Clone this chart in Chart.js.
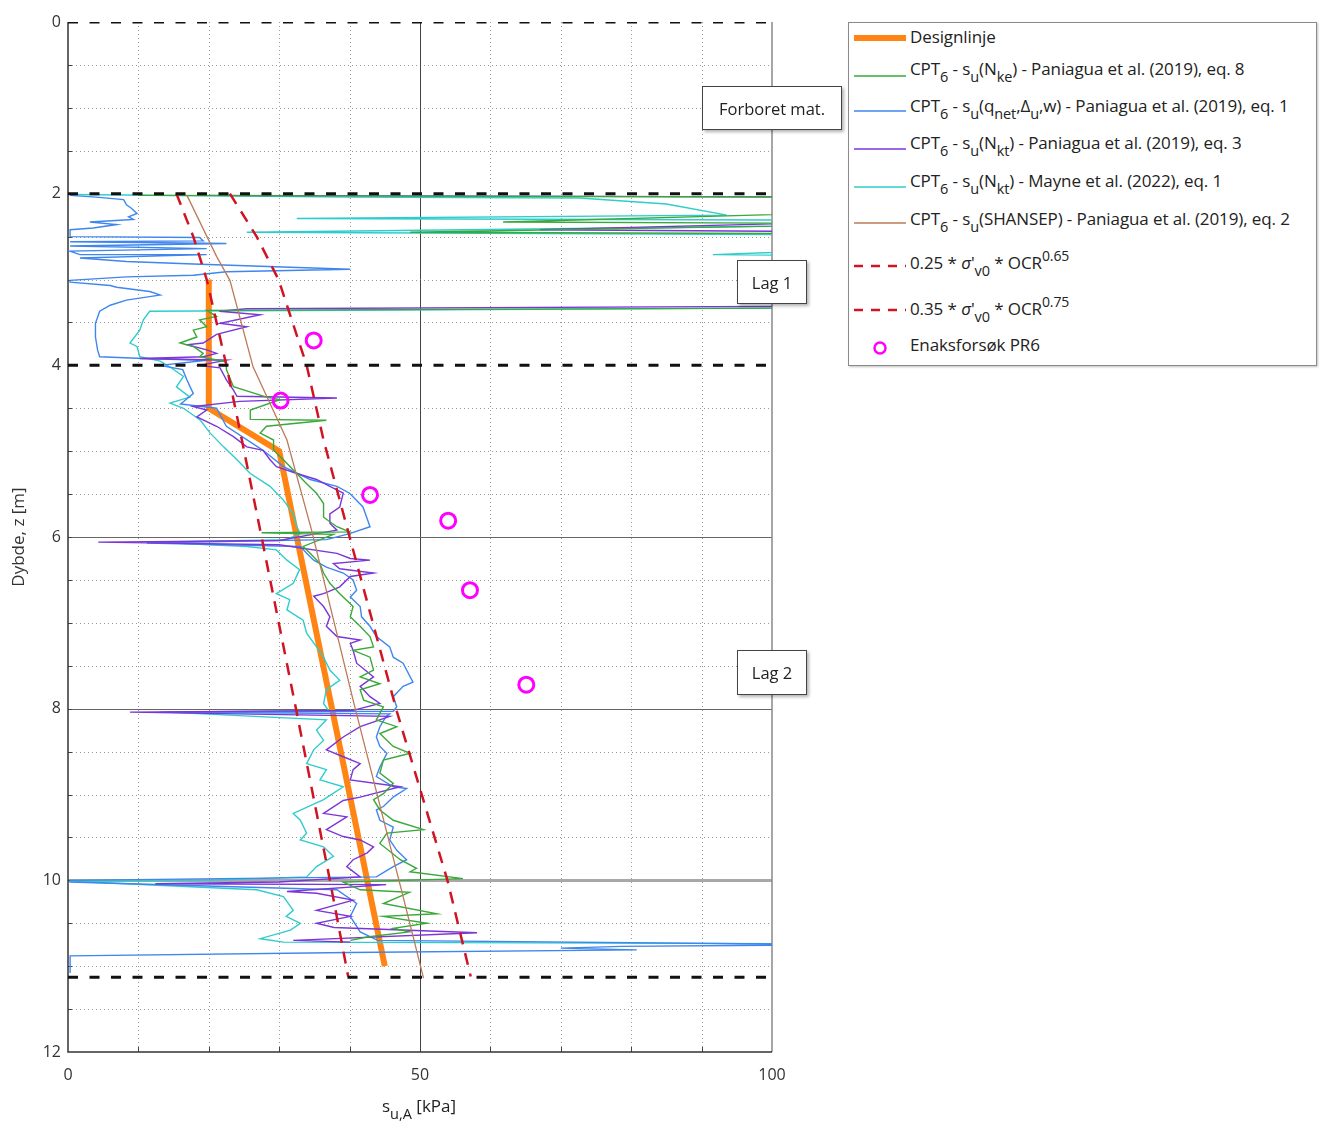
<!DOCTYPE html>
<html>
<head>
<meta charset="utf-8">
<script src="https://cdn.jsdelivr.net/npm/chart.js@4.4.1/dist/chart.umd.min.js"></script>
<style>
    body { margin: 0; background: #fff; font-family: "Open Sans", Lato, sans-serif; color: #222; }
    #wrap { position: relative; width: 1321px; height: 1129px; }
    #chart { position: absolute; left: 0; top: 0; }
    #legend {
        position: absolute; left: 848px; top: 22px; width: 467px; height: 342px;
        border: 1px solid #8a8a8a; box-shadow: 1px 1px 2px rgba(0, 0, 0, 0.25); background: #fff;
    }
    #legend .txt { position: absolute; left: 61px; font-size: 17px; line-height: 22px; white-space: nowrap; letter-spacing: -0.1px; }
    #legend svg { position: absolute; left: 4px; }
    sub { font-size: 14.5px; vertical-align: -7px; line-height: 0; }
    sup { font-size: 14px; vertical-align: 8px; line-height: 0; }
    .note {
        position: absolute; background: #fff; border: 1.5px solid #444;
        box-shadow: 2px 2px 3px rgba(0, 0, 0, 0.3); font-size: 16.5px;
        display: flex; align-items: center; justify-content: center; box-sizing: border-box;
    }
    #xtitle { position: absolute; left: 382px; top: 1094px; font-size: 17px; white-space: nowrap; }
</style>
</head>
<body>
<div id="wrap">
    <canvas id="chart" width="800" height="1129"></canvas>
    <div id="legend"></div>
    <div class="note" style="left:702px; top:86px; width:140px; height:44px;">Forboret mat.</div>
    <div class="note" style="left:737px; top:260px; width:70px; height:44px;">Lag 1</div>
    <div class="note" style="left:737px; top:650px; width:70px; height:45px;">Lag 2</div>
    <div id="xtitle">s<sub>u,A</sub> [kPa]</div>
</div>
<script>
// lagdelingsgrenser (stiplet svart)
const layerDepths = [0, 2, 4, 11.13];

// [su kPa, dybde m]
const designLine = [[20, 3.0], [20, 4.5], [30, 5.0], [45, 11.0]];

const lowerBound = [[15.4, 2.0], [17.8, 2.5], [19.7, 3.0], [22.5, 4.0], [24.7, 4.87], [27.3, 5.92],
    [32.5, 8.05], [37.2, 10.0], [39.8, 11.12]];

const upperBound = [[23.0, 2.0], [26.8, 2.5], [29.9, 3.0], [33.9, 4.0], [36.3, 4.87], [40.1, 6.03],
    [46.7, 8.03], [50.5, 9.07], [53.9, 10.0], [57.2, 11.12]];

const shansep = [[16.9, 2.02], [21.1, 2.73], [23.0, 3.01], [26.3, 4.02], [31.1, 4.87], [34.6, 5.92],
    [40.5, 7.9], [47.6, 10.19], [50.5, 11.14]];

const enaks = [[34.9, 3.71], [30.2, 4.41], [42.9, 5.51], [54.0, 5.81], [57.1, 6.62], [65.1, 7.72]];

const cptNke = [[10, 2.02], [110, 2.04], [120, 2.2], [61.8, 2.33], [120, 2.35], [48.6, 2.45], [120, 2.47],
    [130, 3.0], [110, 3.33], [19.7, 3.36], [21.1, 3.43], [18.7, 3.47], [19.7, 3.55], [17.8, 3.59],
    [18.3, 3.67], [15.9, 3.74], [17.8, 3.78], [19.2, 3.86], [18.7, 3.9], [22.5, 3.96], [22.5, 4.05],
    [23.5, 4.25], [28.2, 4.37], [30.1, 4.4], [25.9, 4.52], [25.9, 4.63], [36.7, 4.64], [28.2, 4.71],
    [27.3, 4.79], [29.2, 4.87], [29.2, 4.99], [30.6, 5.1], [32.0, 5.22], [33.9, 5.38], [35.3, 5.49],
    [36.3, 5.61], [36.3, 5.77], [38.2, 5.88], [40.0, 5.94], [27.5, 5.95], [37.7, 5.97], [33.4, 6.11],
    [34.4, 6.19], [35.8, 6.31], [36.3, 6.42], [37.2, 6.54], [38.6, 6.66], [40.5, 6.81], [40.1, 6.93],
    [41.5, 7.04], [42.9, 7.16], [43.4, 7.28], [40.5, 7.32], [42.9, 7.4], [43.4, 7.55], [41.5, 7.63],
    [44.3, 7.71], [41.5, 7.78], [42.0, 7.9], [44.8, 7.98], [43.8, 8.13], [46.7, 8.21], [44.3, 8.29],
    [46.2, 8.44], [48.6, 8.52], [44.8, 8.6], [44.3, 8.75], [46.2, 8.87], [44.8, 8.99], [43.4, 9.06],
    [44.3, 9.18], [46.2, 9.3], [50.5, 9.41], [45.3, 9.45], [44.3, 9.57], [47.2, 9.76], [49.5, 9.86],
    [48.6, 9.9], [56.1, 9.98], [39.1, 10.02], [41.5, 10.11], [48.5, 10.14], [44.8, 10.27], [52.4, 10.39],
    [44.8, 10.42], [51.0, 10.5], [46.2, 10.56], [48.5, 10.6], [42.5, 10.66], [40.1, 10.7]];

const cptQnet = [[0.3, 2.02], [4.0, 2.04], [7.9, 2.07], [8.3, 2.13], [9.0, 2.17], [9.8, 2.23], [8.6, 2.27],
    [9.3, 2.3], [7.4, 2.31], [3.1, 2.33], [6.9, 2.36], [3.6, 2.4], [0.3, 2.42], [0.3, 2.5], [18.7, 2.51],
    [19.2, 2.55], [0.3, 2.56], [22.5, 2.58], [0.3, 2.61], [19.7, 2.64], [0.3, 2.67], [1.7, 2.71],
    [19.7, 2.71], [1.7, 2.75], [8.3, 2.79], [17.8, 2.82], [40.1, 2.88], [22.5, 2.91], [17.8, 2.95],
    [8.3, 2.97], [0.3, 3.01], [0.3, 3.03], [6.0, 3.07], [6.9, 3.09], [11.6, 3.14], [13.1, 3.18],
    [11.6, 3.2], [8.3, 3.24], [6.0, 3.3], [4.5, 3.37], [3.9, 3.51], [3.9, 3.67], [4.2, 3.82], [4.5, 3.9],
    [10.7, 3.92], [19.7, 3.94], [13.1, 4.0], [16.3, 4.05], [16.9, 4.17], [17.8, 4.33], [16.0, 4.45],
    [21.1, 4.5], [22.5, 4.71], [27.7, 4.99], [30.6, 5.18], [34.4, 5.33], [38.2, 5.41], [40.0, 5.49],
    [41.9, 5.65], [42.9, 5.88], [40.0, 5.96], [36.7, 6.03], [11.2, 6.07], [33.0, 6.11], [33.9, 6.19],
    [34.9, 6.27], [36.7, 6.35], [39.1, 6.42], [40.5, 6.5], [41.0, 6.62], [40.1, 6.7], [41.5, 6.81],
    [41.7, 6.93], [42.9, 7.04], [43.8, 7.16], [45.7, 7.28], [46.2, 7.4], [47.6, 7.47], [49.0, 7.69],
    [47.6, 7.74], [46.2, 7.86], [46.7, 7.98], [46.2, 8.03], [13.1, 8.04], [45.7, 8.06], [45.2, 8.09],
    [44.3, 8.21], [43.8, 8.33], [44.3, 8.44], [45.3, 8.52], [44.3, 8.68], [43.8, 8.79], [46.2, 8.91],
    [48.1, 8.93], [46.2, 9.03], [44.8, 9.14], [43.8, 9.18], [44.3, 9.3], [46.2, 9.38], [45.7, 9.53],
    [46.7, 9.65], [48.1, 9.76], [46.2, 9.84], [43.8, 9.96], [0.3, 10.0], [0.3, 10.02], [38.2, 10.11],
    [41.0, 10.27], [40.1, 10.42], [41.5, 10.6], [44.0, 10.7], [110, 10.75], [78.6, 10.77], [70.0, 10.79],
    [80.8, 10.81], [40.0, 10.84], [0.3, 10.88], [0.3, 11.08]];

const cptNkt = [[20, 2.02], [110, 2.04], [120, 2.2], [105, 2.28], [120, 2.31], [67, 2.42], [120, 2.45],
    [130, 3.0], [110, 3.31], [25.4, 3.34], [21.5, 3.37], [27.3, 3.41], [21.6, 3.51], [25.4, 3.55],
    [21.1, 3.64], [19.2, 3.74], [16.9, 3.76], [19.7, 3.82], [21.1, 3.86], [19.2, 3.9], [10.2, 3.92],
    [22.5, 3.94], [18.7, 4.0], [21.6, 4.03], [22.5, 4.17], [23.5, 4.29], [24.0, 4.36], [38.2, 4.38],
    [24.4, 4.42], [17.8, 4.48], [19.7, 4.52], [18.3, 4.6], [21.1, 4.71], [23.5, 4.83], [25.4, 4.95],
    [27.7, 4.99], [28.7, 5.1], [29.6, 5.18], [32.5, 5.26], [35.3, 5.33], [37.2, 5.41], [39.1, 5.49],
    [38.6, 5.65], [37.2, 5.73], [37.2, 5.84], [38.2, 5.92], [35.3, 5.96], [30.0, 6.04], [4.3, 6.06],
    [30.0, 6.09], [38.2, 6.19], [40.1, 6.25], [42.9, 6.27], [37.7, 6.31], [38.6, 6.37], [43.4, 6.42],
    [40.1, 6.46], [38.6, 6.58], [36.3, 6.66], [34.9, 6.69], [36.3, 6.81], [37.2, 6.93], [36.7, 7.04],
    [38.2, 7.16], [41.5, 7.2], [40.1, 7.24], [40.5, 7.32], [41.0, 7.47], [43.4, 7.63], [41.5, 7.74],
    [42.9, 7.86], [44.3, 7.94], [40.5, 8.02], [8.8, 8.04], [45.7, 8.09], [41.5, 8.21], [39.1, 8.33],
    [36.7, 8.48], [39.1, 8.56], [41.5, 8.64], [40.5, 8.71], [40.1, 8.83], [47.2, 8.91], [41.5, 9.03],
    [39.1, 9.07], [36.3, 9.22], [39.6, 9.26], [36.7, 9.41], [39.1, 9.49], [41.5, 9.53], [43.4, 9.61],
    [42.5, 9.68], [40.5, 9.76], [39.6, 9.84], [41.5, 9.96], [30.0, 10.02], [12.4, 10.04], [45.2, 10.05],
    [31.1, 10.13], [35.3, 10.15], [40.5, 10.23], [35.3, 10.35], [40.1, 10.42], [35.3, 10.5], [37.8, 10.55],
    [58.1, 10.61], [32.0, 10.7], [40.1, 10.72]];

const cptMayne = [[0.3, 2.01], [40, 2.04], [72.7, 2.05], [85, 2.12], [93.6, 2.25], [32.5, 2.29], [110, 2.31],
    [120, 2.36], [25.4, 2.45], [110, 2.48], [130, 2.6], [91.6, 2.71], [120, 2.73], [130, 3.0], [110, 3.33],
    [11.6, 3.37], [10.7, 3.47], [10.2, 3.59], [8.8, 3.74], [9.8, 3.78], [10.2, 3.9], [13.1, 3.95],
    [14.5, 4.02], [16.4, 4.13], [15.4, 4.25], [17.3, 4.37], [14.5, 4.44], [16.4, 4.5], [18.8, 4.64],
    [20.2, 4.79], [22.1, 4.95], [24.0, 5.1], [25.9, 5.26], [28.7, 5.41], [30.6, 5.57], [32.0, 5.73],
    [32.5, 5.88], [33.0, 5.96], [31.0, 6.03], [12.0, 6.06], [25.4, 6.11], [29.6, 6.15], [31.1, 6.27],
    [32.9, 6.38], [32.0, 6.54], [29.6, 6.66], [31.5, 6.73], [31.1, 6.85], [33.4, 6.97], [33.9, 7.12],
    [35.3, 7.28], [36.3, 7.4], [37.2, 7.55], [38.6, 7.67], [36.7, 7.78], [36.3, 7.94], [37.0, 8.02],
    [14.0, 8.04], [36.7, 8.13], [35.3, 8.25], [36.3, 8.37], [34.9, 8.48], [33.9, 8.64], [36.7, 8.71],
    [35.8, 8.83], [39.1, 8.91], [36.3, 9.06], [32.0, 9.22], [33.0, 9.3], [33.9, 9.45], [33.0, 9.53],
    [36.3, 9.61], [37.7, 9.72], [35.3, 9.84], [33.9, 9.96], [20.0, 10.0], [0.3, 10.01], [26.8, 10.11],
    [30.6, 10.19], [32.0, 10.35], [31.0, 10.42], [33.0, 10.5], [31.6, 10.58], [27.3, 10.68], [30.6, 10.72],
    [110, 10.74]];

const colors = {
    design: "#ff8414",
    nke: "#3aa83a",
    qnet: "#3f86ee",
    nkt: "#7b35d8",
    mayne: "#30cccc",
    shansep: "#bb7b58",
    bound: "#d01424",
    enaks: "#ff00ff",
};

const pts = (arr) => arr.map(([x, y]) => ({ x: x, y: y }));

const lineSet = (data, color, width, dash) => ({
    data: pts(data),
    showLine: true,
    borderColor: color,
    backgroundColor: color,
    borderWidth: width,
    borderDash: dash || [],
    pointRadius: 0,
    pointHoverRadius: 0,
    fill: false,
    tension: 0,
});

// rutenett, ramme og små tick-merker
const gridPlugin = {
    id: "gridLines",
    beforeDatasetsDraw(chart) {
        const { ctx, chartArea: a, scales } = chart;
        const sx = scales.x;
        const sy = scales.y;
        const hline = (v) => {
            const p = Math.round(sy.getPixelForValue(v)) + 0.5;
            ctx.beginPath();
            ctx.moveTo(a.left, p);
            ctx.lineTo(a.right, p);
            ctx.stroke();
        };
        const vline = (v) => {
            const p = Math.round(sx.getPixelForValue(v)) + 0.5;
            ctx.beginPath();
            ctx.moveTo(p, a.top);
            ctx.lineTo(p, a.bottom);
            ctx.stroke();
        };
        ctx.save();
        // stiplet hjelpenett
        ctx.strokeStyle = "#9a9a9a";
        ctx.lineWidth = 1;
        ctx.setLineDash([1, 3]);
        for (let v = 10; v < 100; v += 10) if (v !== 50) vline(v);
        for (let v = 0.5; v < 12; v += 0.5) if (v % 2 !== 0) hline(v);
        ctx.setLineDash([]);
        // hovedlinjer
        ctx.strokeStyle = "#444";
        vline(50);
        ctx.strokeStyle = "#666";
        hline(6);
        hline(8);
        ctx.strokeStyle = "#a8a8a8";
        ctx.lineWidth = 3;
        hline(10);
        // tick-merker
        ctx.strokeStyle = "#444";
        ctx.lineWidth = 1;
        for (let v = 0.5; v < 12; v += 0.5) {
            const p = Math.round(sy.getPixelForValue(v)) + 0.5;
            ctx.beginPath();
            ctx.moveTo(a.left, p);
            ctx.lineTo(a.left + 4, p);
            ctx.stroke();
        }
        for (let v = 10; v < 100; v += 10) {
            const p = Math.round(sx.getPixelForValue(v)) + 0.5;
            ctx.beginPath();
            ctx.moveTo(p, a.bottom);
            ctx.lineTo(p, a.bottom - 5);
            ctx.stroke();
        }
        // ramme
        ctx.lineWidth = 1.5;
        ctx.strokeStyle = "#888";
        ctx.beginPath();
        ctx.moveTo(a.right, a.top);
        ctx.lineTo(a.right, a.bottom);
        ctx.stroke();
        ctx.strokeStyle = "#333";
        ctx.beginPath();
        ctx.moveTo(a.left, a.top);
        ctx.lineTo(a.left, a.bottom);
        ctx.lineTo(a.right, a.bottom);
        ctx.stroke();
        ctx.restore();
    },
};

const datasets = [];
layerDepths.forEach((z) => {
    datasets.push(lineSet([[0, z], [100, z]], "#111", 3, [10, 11.5]));
});
datasets.push({
    data: pts(enaks),
    showLine: false,
    pointStyle: "circle",
    pointRadius: 7.5,
    pointBorderWidth: 3,
    pointBorderColor: colors.enaks,
    pointBackgroundColor: "rgba(0,0,0,0)",
});
datasets.push(lineSet(lowerBound, colors.bound, 2.5, [12, 9]));
datasets.push(lineSet(upperBound, colors.bound, 2.5, [12, 9]));
datasets.push(lineSet(shansep, colors.shansep, 1.3));
datasets.push(lineSet(cptNke, colors.nke, 1.4));
datasets.push(lineSet(cptNkt, colors.nkt, 1.4));
datasets.push(lineSet(cptQnet, colors.qnet, 1.4));
datasets.push(lineSet(cptMayne, colors.mayne, 1.4));
datasets.push(lineSet(designLine, colors.design, 6));

Chart.defaults.font.family = '"Open Sans", Lato, sans-serif';
Chart.defaults.color = "#333";

new Chart(document.getElementById("chart"), {
    type: "scatter",
    data: { datasets: datasets },
    options: {
        responsive: false,
        animation: false,
        layout: { padding: { top: 22, right: 28, left: 0, bottom: 0 } },
        plugins: { legend: { display: false }, tooltip: { enabled: false } },
        scales: {
            x: {
                type: "linear",
                min: 0,
                max: 100,
                position: "bottom",
                grid: { display: false, drawTicks: false },
                border: { display: false },
                ticks: { stepSize: 50, padding: 14, font: { size: 16 } },
                afterFit: (s) => { s.height = 77; },
            },
            y: {
                type: "linear",
                min: 0,
                max: 12,
                reverse: true,
                grid: { display: false, drawTicks: false },
                border: { display: false },
                ticks: { stepSize: 2, padding: 7, font: { size: 16 } },
                title: { display: true, text: "Dybde, z [m]", font: { size: 17 }, padding: { top: 9, bottom: 0 } },
                afterFit: (s) => { s.width = 68; },
            },
        },
    },
    plugins: [gridPlugin],
});

// forklaring
const legendRows = [
    { type: "line", color: colors.design, width: 6, lineY: 15, textY: 14, html: "Designlinje" },
    { type: "line", color: colors.nke, width: 1.5, lineY: 53, textY: 46,
        html: "CPT<sub>6</sub> - s<sub>u</sub>(N<sub>ke</sub>) - Paniagua et al. (2019), eq. 8" },
    { type: "line", color: colors.qnet, width: 1.5, lineY: 88, textY: 83,
        html: "CPT<sub>6</sub> - s<sub>u</sub>(q<sub>net</sub>,Δ<sub>u</sub>,w) - Paniagua et al. (2019), eq. 1" },
    { type: "line", color: colors.nkt, width: 1.5, lineY: 126, textY: 120,
        html: "CPT<sub>6</sub> - s<sub>u</sub>(N<sub>kt</sub>) - Paniagua et al. (2019), eq. 3" },
    { type: "line", color: colors.mayne, width: 1.5, lineY: 164, textY: 158,
        html: "CPT<sub>6</sub> - s<sub>u</sub>(N<sub>kt</sub>) - Mayne et al. (2022), eq. 1" },
    { type: "line", color: colors.shansep, width: 1.5, lineY: 200, textY: 196,
        html: "CPT<sub>6</sub> - s<sub>u</sub>(SHANSEP) - Paniagua et al. (2019), eq. 2" },
    { type: "dash", color: colors.bound, width: 2.5, lineY: 243, textY: 240,
        html: "0.25 * <i>σ</i>'<sub>v0</sub> * OCR<sup>0.65</sup>" },
    { type: "dash", color: colors.bound, width: 2.5, lineY: 287, textY: 286,
        html: "0.35 * <i>σ</i>'<sub>v0</sub> * OCR<sup>0.75</sup>" },
    { type: "circle", color: colors.enaks, lineY: 325, textY: 322, html: "Enaksforsøk PR6" },
];

const legend = document.getElementById("legend");
legendRows.forEach((r) => {
    let shape;
    if (r.type === "circle") {
        shape = `<circle cx="27" cy="10" r="5.5" fill="none" stroke="${r.color}" stroke-width="2.5"/>`;
    } else {
        const dash = r.type === "dash" ? 'stroke-dasharray="9 8"' : "";
        shape = `<line x1="1" y1="10" x2="53" y2="10" stroke="${r.color}" stroke-width="${r.width}" ${dash}/>`;
    }
    const svg = `<svg width="56" height="20" style="top:${r.lineY - 10}px">${shape}</svg>`;
    const txt = `<div class="txt" style="top:${r.textY - 11}px">${r.html}</div>`;
    legend.insertAdjacentHTML("beforeend", svg + txt);
});
</script>
</body>
</html>
